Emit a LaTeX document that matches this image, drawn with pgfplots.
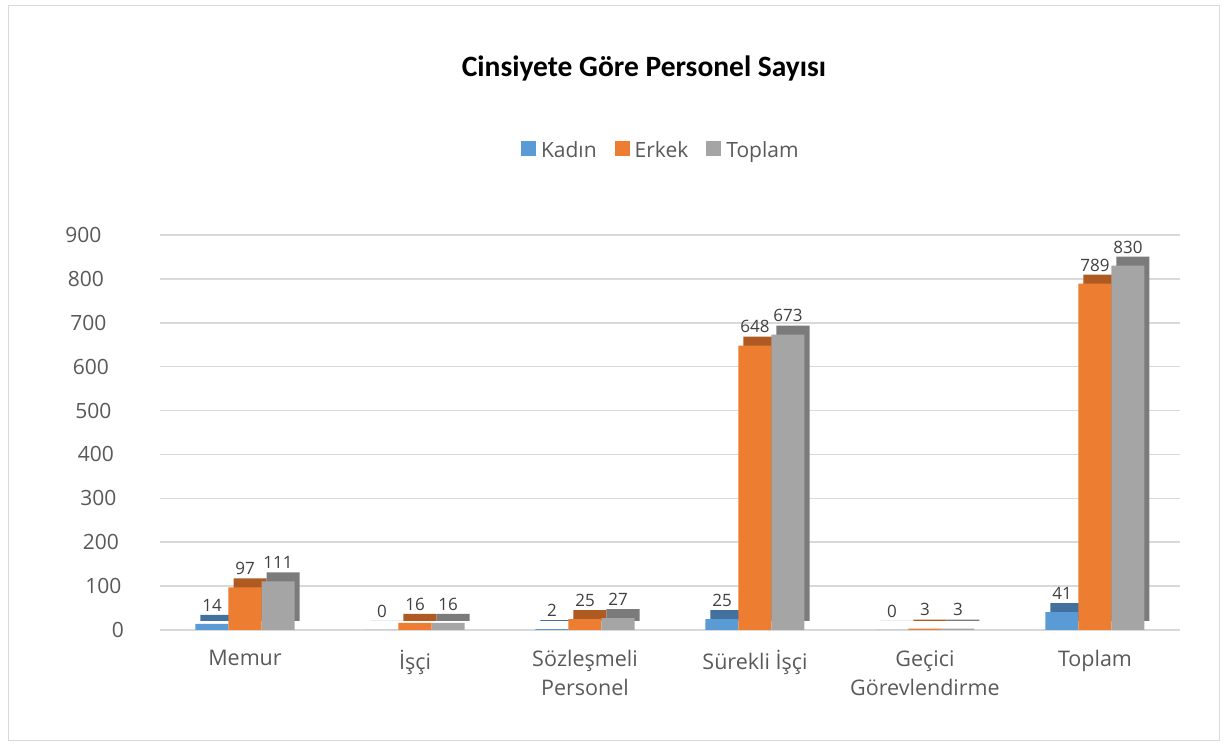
\documentclass[border=0pt]{standalone}
\usepackage{pgfplots}
\pgfplotsset{compat=1.18}
\usepackage{fontspec}
\setmainfont{Open Sans}
\newfontfamily\titlefont{Carlito}
\definecolor{kadin}{HTML}{5B9BD5}
\definecolor{kadinD}{HTML}{41719C}
\definecolor{erkek}{HTML}{ED7D31}
\definecolor{erkekD}{HTML}{AE5A21}
\definecolor{toplam}{HTML}{A5A5A5}
\definecolor{toplamD}{HTML}{7B7B7B}
\definecolor{gridgray}{HTML}{D9D9D9}
\definecolor{tickgray}{HTML}{595959}
\definecolor{labelgray}{HTML}{404040}
\pgfplotstableread{
x kadin erkek toplam
0 14 97 111
1 0 16 16
2 2 25 27
3 25 648 673
4 0 3 3
5 41 789 830
}\datatable
\begin{document}
\begin{tikzpicture}
\useasboundingbox (0,0) rectangle (1227pt,747pt);
\draw[color=gridgray, line width=1pt] (8pt,6pt) rectangle (1219pt,741pt);
\node[font=\titlefont\bfseries\fontsize{29.5}{34}\selectfont] at (644pt,679pt) {Cinsiyete Göre Personel Sayısı};
\begin{axis}[
  at={(160pt,117pt)}, anchor=south west, scale only axis,
  width=1020pt, height=395pt,
  xmin=-0.5, xmax=5.5, ymin=0, ymax=900,
  ytick={0,100,...,900},
  xtick={0,...,5},
  xticklabels={Memur,İşçi,{Sözleşmeli\\Personel},Sürekli İşçi,{Geçici\\Görevlendirme},Toplam},
  ybar, bar width=33pt,
  ymajorgrids, grid style={draw=gridgray, line width=1.5pt},
  axis line style={draw=none}, major tick length=0pt,
  /pgf/number format/assume math mode=true,
  yticklabel style={font=\fontsize{21}{25}\selectfont, text=tickgray, xshift={-55pt+(9-\ticknum)*2.5pt}},
  xticklabel style={font=\fontsize{21.5}{29}\selectfont, text=tickgray, align=center, yshift=-17pt, anchor=north},
  legend style={at={(axis description cs:0.491,1.215)}, anchor=center, draw=none,
    font=\fontsize{21}{25}\selectfont, text=tickgray,
    /tikz/every even column/.append style={column sep=16pt},
    /tikz/every odd column/.append style={column sep=3pt}},
  legend columns=3,
  legend image code/.code={\fill[#1, draw=none] (0pt,-6pt) rectangle (15pt,9pt);},
  nodes near coords style={font=\fontsize{17}{20}\selectfont, text=labelgray, yshift=9pt},
]
% dark extrusion (3D look)
\addplot[fill=kadinD, draw=none, bar shift=-33pt, forget plot, xshift=5pt, yshift=9pt] table[x=x,y=kadin]{\datatable};
\addplot[fill=erkekD, draw=none, bar shift=0pt, forget plot, xshift=5pt, yshift=9pt] table[x=x,y=erkek]{\datatable};
\addplot[fill=toplamD, draw=none, bar shift=33pt, forget plot, xshift=5pt, yshift=9pt] table[x=x,y=toplam]{\datatable};
% front faces
\addplot[fill=kadin, draw=none, bar shift=-33pt, nodes near coords] table[x=x,y=kadin]{\datatable};
\addplot[fill=erkek, draw=none, bar shift=0pt, nodes near coords] table[x=x,y=erkek]{\datatable};
\addplot[fill=toplam, draw=none, bar shift=33pt, nodes near coords] table[x=x,y=toplam]{\datatable};
\legend{Kadın,Erkek,Toplam}
\end{axis}
\end{tikzpicture}
\end{document}
